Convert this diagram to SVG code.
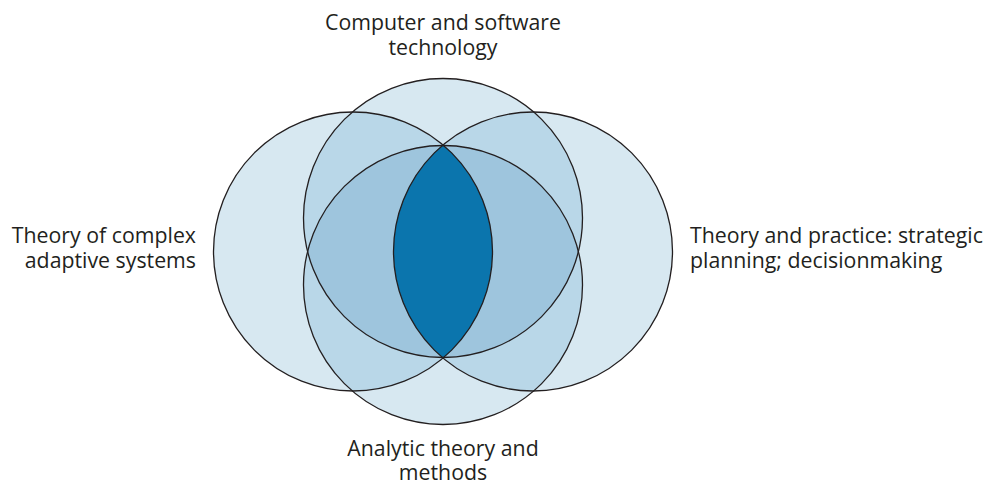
<svg xmlns="http://www.w3.org/2000/svg" width="987" height="483" viewBox="0 0 987 483">
<style>
.lbl{font-family:"Open Sans","Noto Sans","Liberation Sans",sans-serif;font-size:21.3px;fill:#231f20}
.c1{fill:#d7e8f1}
.c2{fill:#b9d7e8}
.c3{fill:#9ec5dd}
.c4{fill:#0b75ad}
.ol{fill:none;stroke:#231f20;stroke-width:1.3}
</style>
<defs>
<circle id="cL" cx="353" cy="251.5" r="139.5"/>
<circle id="cR" cx="533" cy="251.5" r="139.5"/>
<circle id="cT" cx="443" cy="218" r="139.5"/>
<circle id="cB" cx="443" cy="285" r="139.5"/>
<clipPath id="clipL"><use href="#cL"/></clipPath>
<clipPath id="clipR"><use href="#cR"/></clipPath>
<clipPath id="clipT"><use href="#cT"/></clipPath>
<clipPath id="clipB"><use href="#cB"/></clipPath>
</defs>
<rect width="987" height="483" fill="#ffffff"/>
<g id="fills">
<use href="#cL" class="c1"/>
<use href="#cR" class="c1"/>
<use href="#cT" class="c1"/>
<use href="#cB" class="c1"/>
<g clip-path="url(#clipT)"><use href="#cL" class="c2"/><use href="#cR" class="c2"/></g>
<g clip-path="url(#clipB)"><use href="#cL" class="c2"/><use href="#cR" class="c2"/></g>
<use href="#cT" class="c3" clip-path="url(#clipB)"/>
<use href="#cL" class="c4" clip-path="url(#clipR)"/>
</g>
<g id="node-left">
<use href="#cL" class="ol"/>
<text class="lbl" text-anchor="end"><tspan x="196" y="243">Theory of complex</tspan><tspan x="196" y="268">adaptive systems</tspan></text>
</g>
<g id="node-right">
<use href="#cR" class="ol"/>
<text class="lbl"><tspan x="690" y="243">Theory and practice: strategic</tspan><tspan x="690" y="268">planning; decisionmaking</tspan></text>
</g>
<g id="node-top">
<use href="#cT" class="ol"/>
<text class="lbl" text-anchor="middle"><tspan x="443" y="29.5">Computer and software</tspan><tspan x="443" y="54.5">technology</tspan></text>
</g>
<g id="node-bottom">
<use href="#cB" class="ol"/>
<text class="lbl" text-anchor="middle"><tspan x="443" y="456">Analytic theory and</tspan><tspan x="443" y="479.5">methods</tspan></text>
</g>
<g id="connectors"/>
</svg>
